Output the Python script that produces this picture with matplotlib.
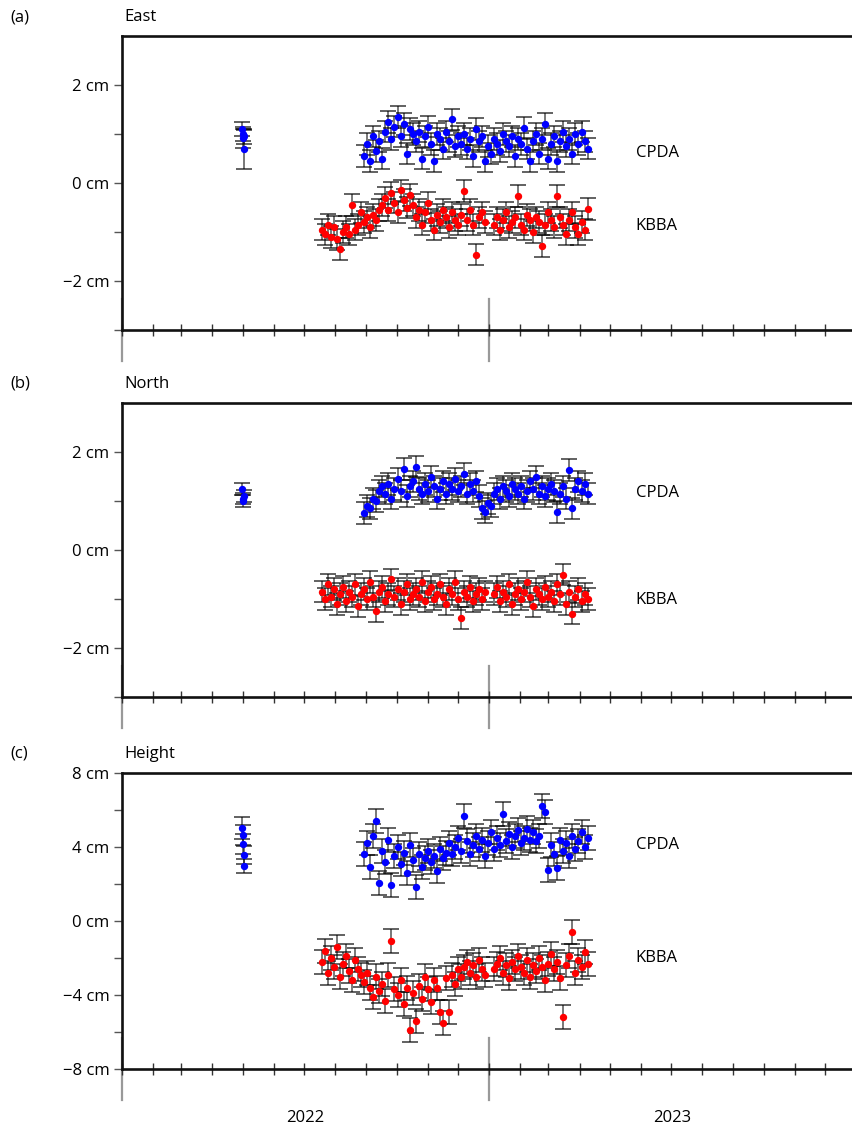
"""
GNSS daily position time series (East, North, Height) for CPDA and KBBA
"""

import numpy as np
import matplotlib.pyplot as plt
import matplotlib.dates as mdates
import matplotlib.transforms as mtransforms

plt.rcParams['font.family'] = ['Open Sans', 'DejaVu Sans']

# --- data (cm), daily solutions sampled every 3 days ---
step_days = 3
kbba_start = '2022-07-19'
cpda_start = '2022-08-30'

kbba_east = [-0.95, -1.05, -0.85, -1.10, -0.90, -1.15, -1.35, -1.00, -0.90, -1.05, -0.45, -0.95, -0.85, -0.60,
             -0.80, -0.70, -0.90, -0.65, -0.75, -0.55,
             -0.45, -0.30, -0.55, -0.20, -0.40, -0.60, -0.15, -0.35, -0.50, -0.25, -0.45,
             -0.70, -0.55, -0.85, -0.60, -0.40, -0.75, -0.95, -0.65, -0.80, -0.55, -0.70, -0.90, -0.60, -0.75, -0.85,
             -0.65, -0.16, -0.75, -0.55, -0.85, -1.46, -0.70, -0.60, -0.80,
             np.nan, np.nan,
             -0.85, -0.70, -0.95, -0.75, -0.60, -0.90, -0.80, -0.70, -0.27, -0.85, -0.95, -0.65, -0.75, -1.00, -0.70, -0.80,
             -1.28, -0.85, -0.60, -0.75, -0.90, -0.27, -0.70, -0.85, -1.05, -0.75, -0.60, -0.90, -1.05, -0.80, -0.95, -0.53]
cpda_east = [0.55, 0.80, 0.45, 0.95, 0.65, 0.85, 0.50,
             1.05, 1.25, 0.90, 1.15, 1.35, 0.95, 1.20, 0.60, 1.10, 1.00,
             0.85, 1.05, 0.50, 0.95, 1.15, 0.80, 0.45, 1.00, 0.90, 0.70, 1.05, 0.85, 1.30, 0.75, 0.95,
             0.80, 1.00, 0.70, 0.90, 0.55, 1.10, 0.85, 0.95, 0.45, 0.75, 0.60, 0.90, 0.80, 0.65, 1.00, 0.85,
             0.75, 0.95, 0.55, 0.90, 0.80, 1.12, 0.70, 0.45, 0.85, 1.00, 0.60, 0.90, 1.20, 0.50, 0.80, 0.95,
             0.45, 0.85, 1.05, 0.75, 0.90, 0.60, 1.00, 0.80, 1.05, 0.85, 0.70]

kbba_north = [-0.85, -1.00, -0.70, -0.95, -0.80, -1.10, -0.90, -0.75, -1.05, -0.85, -0.95, -0.70, -1.15, -0.90,
              -0.80, -1.00, -0.65, -0.95, -1.25, -0.85, -0.75, -1.05, -0.90, -0.60, -0.95, -0.80, -1.10, -0.85, -0.70, -1.00, -0.90,
              -0.80, -0.95, -0.65, -1.05, -0.85, -0.75, -1.00, -0.90, -0.70, -0.95, -1.10, -0.80, -0.90, -0.65, -1.00,
              -1.39, -0.85, -0.95, -0.75, -1.05, -0.90, -0.80, -1.00, -0.85,
              np.nan, np.nan,
              -0.90, -0.75, -1.05, -0.85, -0.95, -0.70, -1.10, -0.90, -0.80, -1.00, -0.85, -0.65, -0.95, -1.15, -0.80, -0.90,
              -1.00, -0.75, -0.95, -0.85, -1.05, -0.70, -0.90, -0.50, -1.10, -0.85, -1.30, -0.95, -0.80, -1.05, -0.90, -1.00]
cpda_north = [0.75, 0.90, 0.85, 1.05, 1.00, 1.20, 1.30,
              1.15, 1.35, 1.05, 1.25, 1.45, 1.20, 1.65, 1.10, 1.30, 1.40,
              1.70, 1.25, 1.15, 1.35, 1.20, 1.50, 1.30, 1.05, 1.25, 1.40, 1.15, 1.35, 1.25, 1.45, 1.20,
              1.30, 1.55, 1.15, 1.35, 1.20, 1.40, 1.10,
              0.85, 0.78, 0.95, 0.90,
              1.15, 1.25, 1.05, 1.30, 1.20, 1.10, 1.35, 1.25, 1.15, 1.30, 1.05, 1.20, 1.40, 1.25, 1.49, 1.15,
              1.30, 1.10, 1.25, 1.35, 1.20, 0.78, 1.15, 1.30, 1.05, 1.63, 0.85, 1.25, 1.40, 1.20, 1.35, 1.15]

kbba_up = [-2.20, -1.60, -2.80, -2.00, -2.50, -1.40, -3.00, -2.30, -1.90, -2.70, -3.20, -2.10, -2.60, -2.90,
           -3.30, -2.80, -3.60, -4.10, -3.00, -3.80, -3.40, -4.30, -2.90, -1.10, -3.70, -4.00, -3.20, -4.50, -3.60, -5.90, -3.90,
           -5.40, -3.50, -4.20, -3.00, -3.70, -4.40, -3.20, -3.60, -4.90, -5.50, -3.10, -4.90, -2.90, -3.40, -2.60, -3.00,
           -2.50, -2.20, -2.80, -2.40, -3.00, -2.10, -2.60, -2.90,
           np.nan, np.nan,
           -2.60, -2.30, -2.00, -2.80, -2.40, -3.10, -2.20, -2.60, -1.90, -2.50, -2.80, -2.10, -3.00, -2.40, -2.70, -2.00,
           -2.50, -3.20, -2.30, -1.80, -2.60, -2.20, -3.10, -5.20, -2.40, -1.90, -0.60, -2.80, -2.10, -2.50, -1.70, -2.30]
cpda_up = [3.60, 4.20, 2.90, 4.60, 5.40, 2.05, 3.80, 3.20, 4.40, 1.95, 3.50, 4.00,
           3.10, 3.70, 2.60, 4.10, 3.30, 1.85, 3.60, 2.90, 3.40, 3.80, 3.20, 3.50, 2.70, 3.90, 3.40, 3.70, 4.20, 3.60, 4.00, 4.50, 3.80,
           5.70, 4.30, 3.60, 4.10, 4.60, 3.90, 4.40, 3.50, 4.20, 4.80, 3.90,
           4.50, 4.10, 5.80, 4.30, 4.70, 4.00, 4.60, 4.90, 4.20, 4.50, 5.00, 4.40, 4.80, 4.30, 4.60, 6.20,
           5.90, 2.75, 4.10, 3.60, 2.85, 4.40, 3.80, 4.20, 3.50, 4.60, 3.90, 4.30, 4.80, 4.00, 4.50]

# early CPDA solutions (spring 2022)
cpda_early_dates = ['2022-04-30', '2022-05-01', '2022-05-01', '2022-05-02', '2022-05-02']
cpda_early_east = [1.10, 1.00, 0.91, 0.95, 0.69]
cpda_early_east_err = [0.15, 0.15, 0.20, 0.15, 0.40]
cpda_early_north = [1.25, 1.05, 1.00, 1.10]
cpda_early_north_err = [0.12, 0.12, 0.12, 0.12]
cpda_early_up = [5.03, 4.65, 4.16, 3.57, 2.97]
cpda_early_up_err = [0.60, 0.55, 0.55, 0.50, 0.40]

sigma = {'East': 0.22, 'North': 0.22, 'Height': 0.65}

panels = ['East', 'North', 'Height']
letters = ['(a)', '(b)', '(c)']
ylims = [(-3, 3), (-3, 3), (-8, 8)]
major_ticks = [[-2, 0, 2], [-2, 0, 2], [-8, -4, 0, 4, 8]]
minor_ticks = [[-3, -1, 1], [-3, -1, 1], [-6, -2, 2, 6]]
label_pos = [(0.61, -0.87), (1.16, -1.02), (4.1, -2.0)]

kbba = [kbba_east, kbba_north, kbba_up]
cpda = [cpda_east, cpda_north, cpda_up]
early = [(cpda_early_east, cpda_early_east_err),
         (cpda_early_north, cpda_early_north_err),
         (cpda_early_up, cpda_early_up_err)]

year_starts = ['2022-01-01', '2023-01-01', '2024-01-01']
year_mids = ['2022-07-02', '2023-07-02']
year_names = ['2022', '2023']
label_date = '2023-05-27'


def series_dates(start, n):
    return np.datetime64(start) + np.arange(n) * np.timedelta64(step_days, 'D')


def err_and_points(ax, x, y, err, color):
    ax.errorbar(x, y, yerr=err, fmt='none', ecolor='black', alpha=0.62,
                elinewidth=1.2, capsize=6, capthick=1.4)
    ax.plot(x, y, 'o', color=color, ms=5.3, mec='none', zorder=3)


def cm_fmt(v, pos):
    return f'{v:g} cm'.replace('-', '\u2212')


W, H = 853, 1131
fig = plt.figure(figsize=(W / 100, H / 100), dpi=100)
tops = [36, 403, 773]
bottoms = [330, 697, 1069]
x0 = np.datetime64('2022-01-01')
x1 = x0 + np.timedelta64(727, 'D')

for i, name in enumerate(panels):
    ax = fig.add_axes([122 / W, 1 - bottoms[i] / H, 1 - 122 / W, (bottoms[i] - tops[i]) / H])

    e_vals, e_errs = early[i]
    e_dates = np.array(cpda_early_dates[:len(e_vals)], dtype='datetime64[D]')
    err_and_points(ax, e_dates, e_vals, e_errs, 'blue')

    r = np.array(kbba[i], dtype=float)
    b = np.array(cpda[i], dtype=float)
    err_and_points(ax, series_dates(kbba_start, len(r)), r, sigma[name], 'red')
    err_and_points(ax, series_dates(cpda_start, len(b)), b, sigma[name], 'blue')

    ax.set_xlim(x0, x1)
    ax.set_ylim(*ylims[i])

    # frame: left, top, bottom
    ax.spines['right'].set_visible(False)
    for s in ['left', 'top', 'bottom']:
        ax.spines[s].set_linewidth(1.9)
        ax.spines[s].set_color('#111111')

    ax.xaxis.set_major_locator(mdates.MonthLocator())
    ax.xaxis.set_major_formatter(plt.NullFormatter())
    ax.tick_params(axis='x', which='major', direction='inout', length=8, width=1.0, color='#333333')

    ax.set_yticks(major_ticks[i])
    ax.set_yticks(minor_ticks[i], minor=True)
    ax.yaxis.set_major_formatter(plt.FuncFormatter(cm_fmt))
    ax.tick_params(axis='y', which='both', direction='out', length=6, width=1.0,
                   color='#555555', labelsize=12, pad=3)

    # long year-boundary ticks
    trans = mtransforms.blended_transform_factory(ax.transData, ax.transAxes)
    for d in year_starts:
        dd = np.datetime64(d)
        ax.plot([dd, dd], [-0.105, 0.105], transform=trans, color='#999999',
                lw=1.6, clip_on=False, zorder=0)

    ax.text(np.datetime64(label_date), label_pos[i][0], 'CPDA', fontsize=12, va='center', ha='left')
    ax.text(np.datetime64(label_date), label_pos[i][1], 'KBBA', fontsize=12, va='center', ha='left')

    fig.text(10 / W, 1 - (tops[i] - 19) / H, letters[i], fontsize=12, va='center', ha='left')
    fig.text(124 / W, 1 - (tops[i] - 19) / H, name, fontsize=12, va='center', ha='left')

    if i == 2:
        for d, lab in zip(year_mids, year_names):
            ax.text(np.datetime64(d), -0.165, lab, transform=trans, fontsize=12,
                    ha='center', va='center')

fig.savefig('out.png', dpi=100)
